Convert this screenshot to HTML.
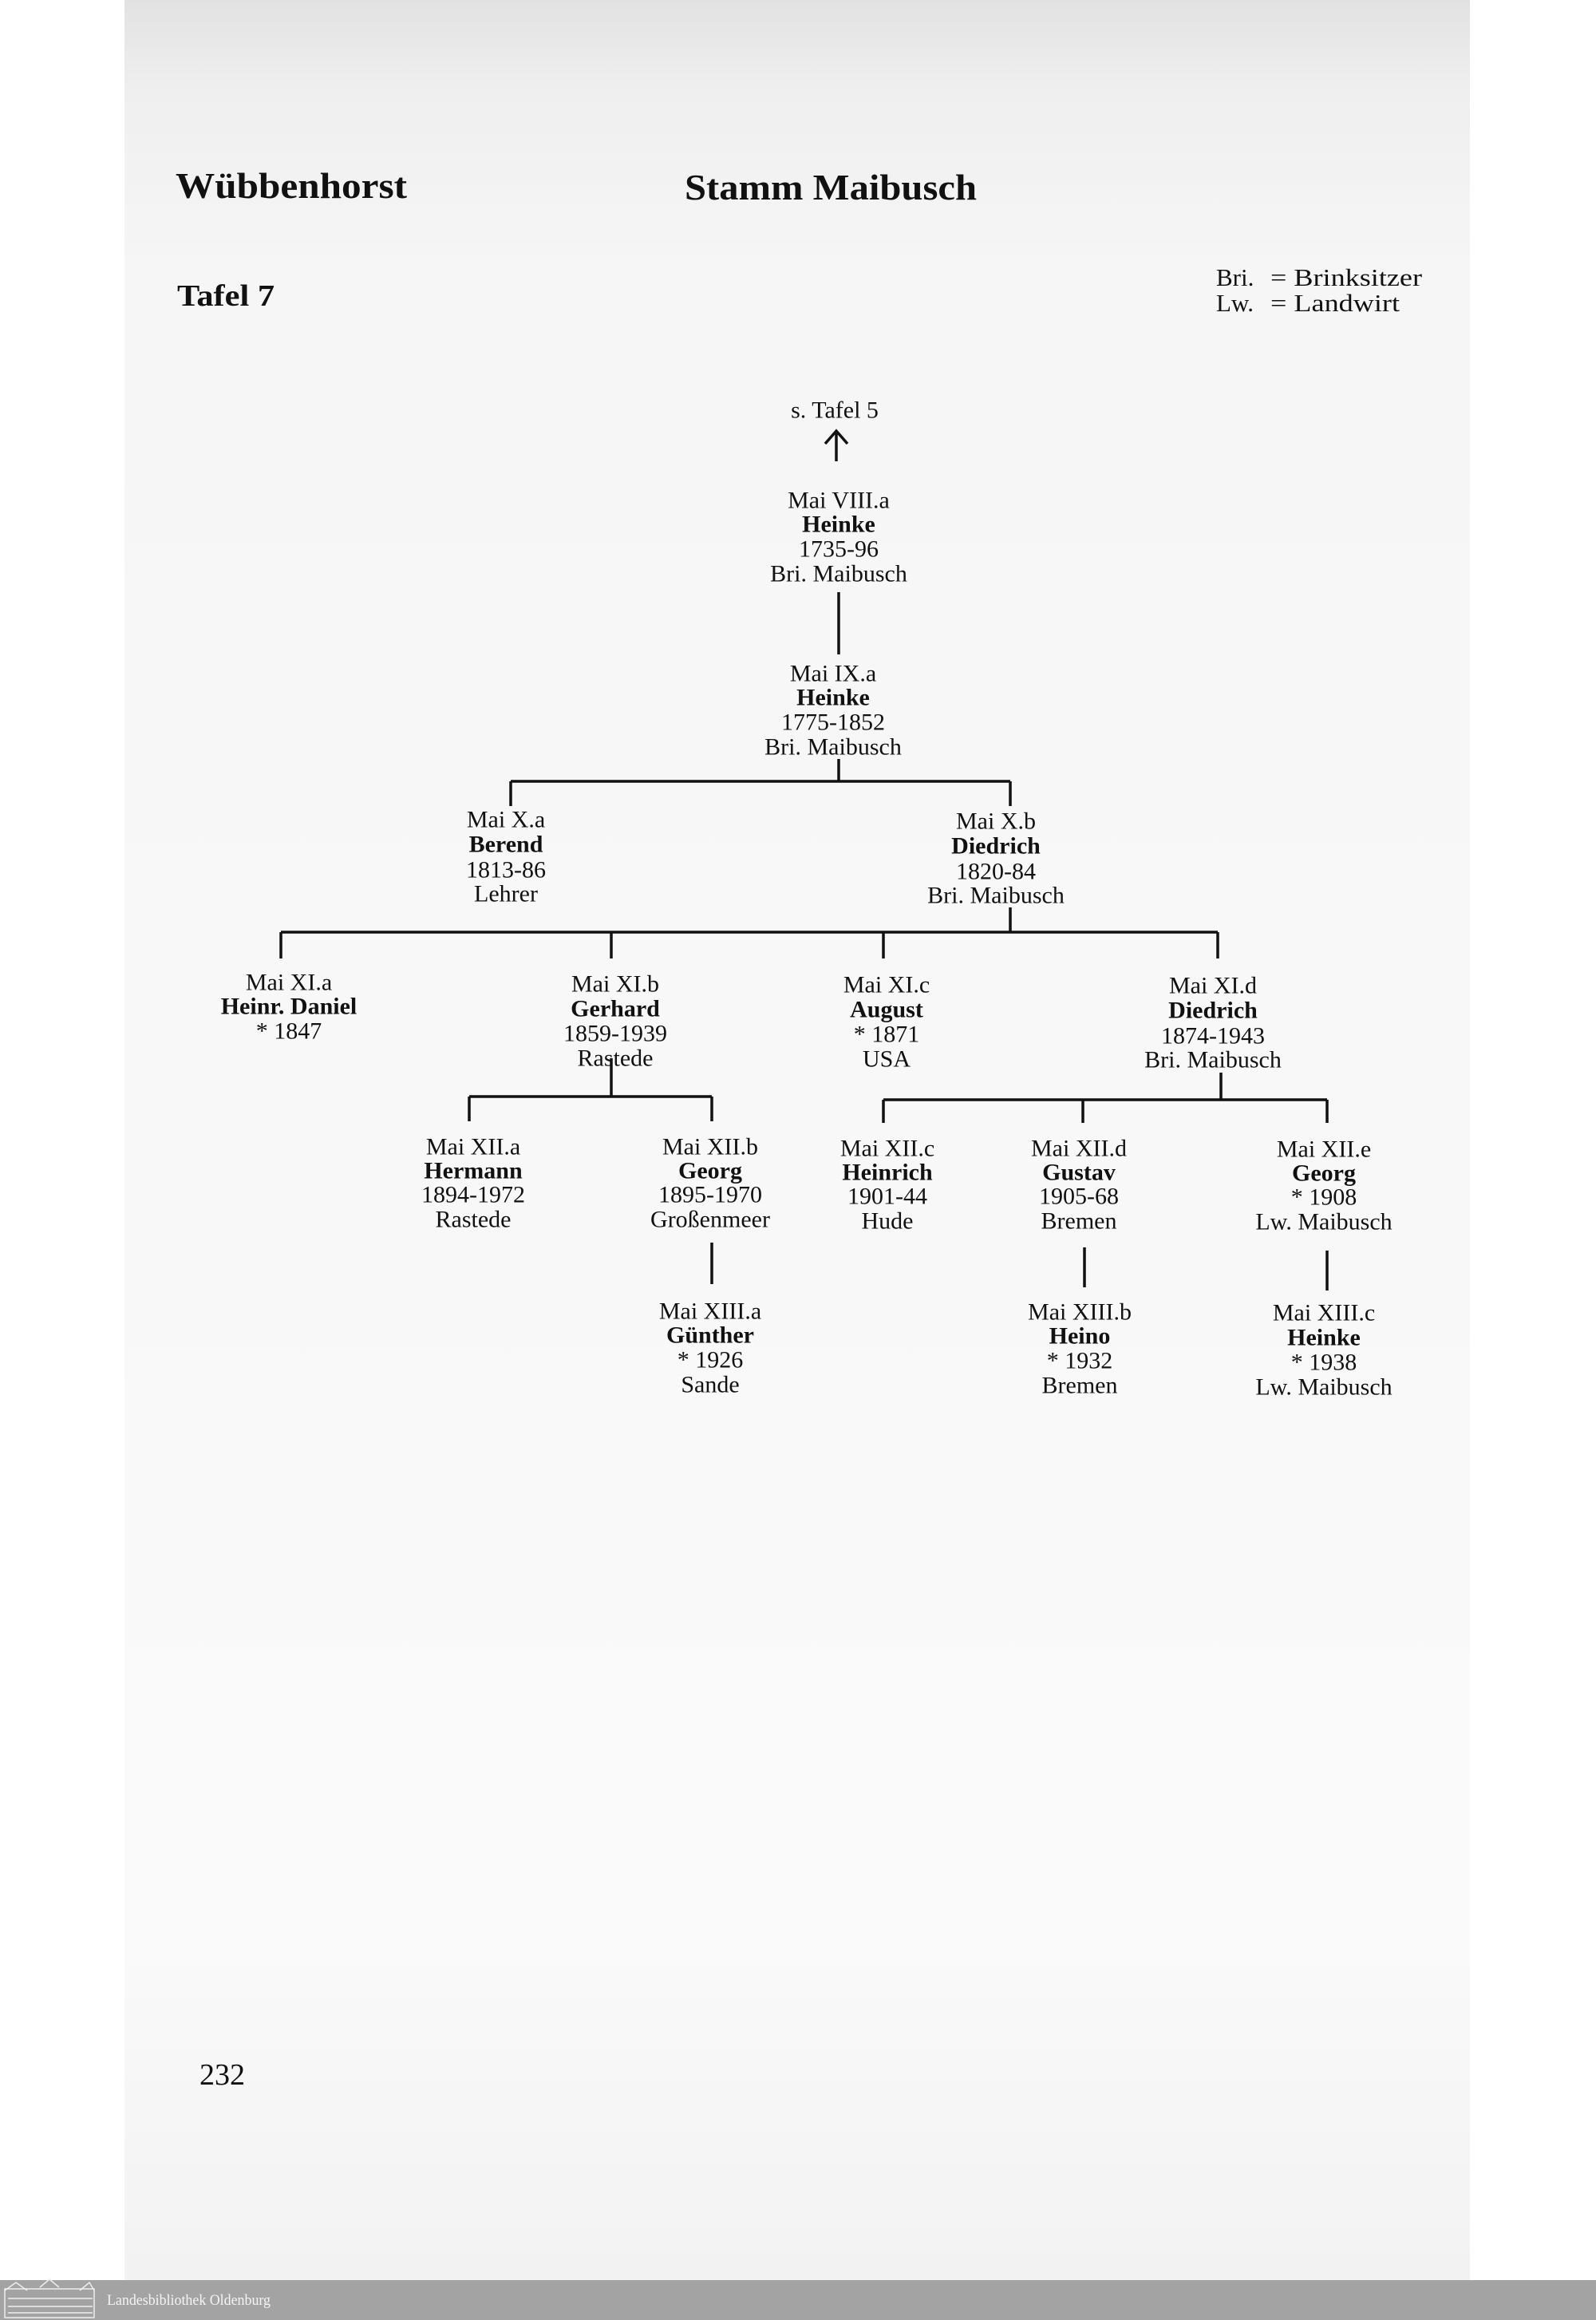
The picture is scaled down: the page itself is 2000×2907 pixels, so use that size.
<!DOCTYPE html>
<html><head><meta charset="utf-8"><style>
html,body{margin:0;padding:0;width:2000px;height:2907px;background:#fff;overflow:hidden}
svg{display:block}
text{font-family:"Liberation Serif",serif;fill:#111}
</style></head><body>
<svg width="2000" height="2907" viewBox="0 0 2000 2907" xmlns="http://www.w3.org/2000/svg">
<defs>
<linearGradient id="pg" x1="0" y1="0" x2="0" y2="1">
<stop offset="0" stop-color="#e2e2e2"/>
<stop offset="0.04" stop-color="#efefef"/>
<stop offset="0.12" stop-color="#f6f6f6"/>
<stop offset="0.85" stop-color="#fafafa"/>
<stop offset="1" stop-color="#f2f2f2"/>
</linearGradient>
</defs>
<rect x="0" y="0" width="2000" height="2907" fill="#fff"/>
<rect x="156" y="0" width="1686" height="2857" fill="url(#pg)"/>
<rect x="0" y="2857" width="2000" height="50" fill="#a3a3a3"/>
<g stroke="#eee" stroke-width="1.5" fill="none">
<rect x="6" y="2868" width="112" height="36"/>
<path d="M6 2870 L20 2860 L34 2870 M50 2866 L62 2856 L74 2866 M100 2870 L112 2860 L118 2870"/>
<path d="M10 2880 H116 M10 2890 H116 M10 2898 H116"/>
</g>
<text x="134" y="2888" font-size="19" style="fill:#f4f4f4" textLength="205" lengthAdjust="spacingAndGlyphs">Landesbibliothek Oldenburg</text>

<text x="220" y="248" font-size="46" font-weight="bold" textLength="290" lengthAdjust="spacingAndGlyphs">Wübbenhorst</text>
<text x="858" y="250" font-size="46" font-weight="bold" textLength="366" lengthAdjust="spacingAndGlyphs">Stamm Maibusch</text>
<text x="222" y="383" font-size="38" font-weight="bold" textLength="122" lengthAdjust="spacingAndGlyphs">Tafel 7</text>
<text x="1524" y="358" font-size="31">Bri.</text>
<text x="1592" y="358" font-size="31" textLength="190" lengthAdjust="spacingAndGlyphs">= Brinksitzer</text>
<text x="1524" y="390" font-size="31">Lw.</text>
<text x="1592" y="390" font-size="31" textLength="162" lengthAdjust="spacingAndGlyphs">= Landwirt</text>
<text x="250" y="2612" font-size="38">232</text>

<g stroke="#111" stroke-width="3.5" fill="none">
<path d="M1048 578 V540 M1034 556 L1048 540 L1062 556"/>
<path d="M1051 742 V820"/>
<path d="M1051 951 V979 M640 979 H1266 M640 979 V1010 M1266 979 V1010"/>
<path d="M1266 1137 V1168 M352 1168 H1526 M352 1168 V1201 M766 1168 V1201 M1107 1168 V1201 M1526 1168 V1201"/>
<path d="M766 1326 V1374 M588 1374 H892 M588 1374 V1405 M892 1374 V1405"/>
<path d="M1530 1344 V1378 M1107 1378 H1663 M1107 1378 V1407 M1357 1378 V1407 M1663 1378 V1407"/>
<path d="M892 1557 V1609 M1359 1563 V1613 M1663 1567 V1617"/>
</g>

<g font-size="30" text-anchor="middle" dominant-baseline="central">
<text x="1046" y="514">s. Tafel 5</text>

<text x="1051" y="627">Mai VIII.a</text>
<text x="1051" y="657" font-weight="bold">Heinke</text>
<text x="1051" y="688">1735-96</text>
<text x="1051" y="719">Bri. Maibusch</text>

<text x="1044" y="844">Mai IX.a</text>
<text x="1044" y="874" font-weight="bold">Heinke</text>
<text x="1044" y="905">1775-1852</text>
<text x="1044" y="936">Bri. Maibusch</text>

<text x="634" y="1027">Mai X.a</text>
<text x="634" y="1058" font-weight="bold">Berend</text>
<text x="634" y="1090">1813-86</text>
<text x="634" y="1120">Lehrer</text>

<text x="1248" y="1029">Mai X.b</text>
<text x="1248" y="1060" font-weight="bold">Diedrich</text>
<text x="1248" y="1092">1820-84</text>
<text x="1248" y="1122">Bri. Maibusch</text>

<text x="362" y="1231">Mai XI.a</text>
<text x="362" y="1261" font-weight="bold">Heinr. Daniel</text>
<text x="362" y="1292">* 1847</text>

<text x="771" y="1233">Mai XI.b</text>
<text x="771" y="1264" font-weight="bold">Gerhard</text>
<text x="771" y="1295">1859-1939</text>
<text x="771" y="1326">Rastede</text>

<text x="1111" y="1234">Mai XI.c</text>
<text x="1111" y="1265" font-weight="bold">August</text>
<text x="1111" y="1296">* 1871</text>
<text x="1111" y="1327">USA</text>

<text x="1520" y="1235">Mai XI.d</text>
<text x="1520" y="1266" font-weight="bold">Diedrich</text>
<text x="1520" y="1298">1874-1943</text>
<text x="1520" y="1328">Bri. Maibusch</text>

<text x="593" y="1437">Mai XII.a</text>
<text x="593" y="1467" font-weight="bold">Hermann</text>
<text x="593" y="1497">1894-1972</text>
<text x="593" y="1528">Rastede</text>

<text x="890" y="1437">Mai XII.b</text>
<text x="890" y="1467" font-weight="bold">Georg</text>
<text x="890" y="1497">1895-1970</text>
<text x="890" y="1528">Großenmeer</text>

<text x="1112" y="1439">Mai XII.c</text>
<text x="1112" y="1469" font-weight="bold">Heinrich</text>
<text x="1112" y="1499">1901-44</text>
<text x="1112" y="1530">Hude</text>

<text x="1352" y="1439">Mai XII.d</text>
<text x="1352" y="1469" font-weight="bold">Gustav</text>
<text x="1352" y="1499">1905-68</text>
<text x="1352" y="1530">Bremen</text>

<text x="1659" y="1440">Mai XII.e</text>
<text x="1659" y="1470" font-weight="bold">Georg</text>
<text x="1659" y="1500">* 1908</text>
<text x="1659" y="1531">Lw. Maibusch</text>

<text x="890" y="1643">Mai XIII.a</text>
<text x="890" y="1673" font-weight="bold">Günther</text>
<text x="890" y="1704">* 1926</text>
<text x="890" y="1735">Sande</text>

<text x="1353" y="1644">Mai XIII.b</text>
<text x="1353" y="1674" font-weight="bold">Heino</text>
<text x="1353" y="1705">* 1932</text>
<text x="1353" y="1736">Bremen</text>

<text x="1659" y="1645">Mai XIII.c</text>
<text x="1659" y="1676" font-weight="bold">Heinke</text>
<text x="1659" y="1707">* 1938</text>
<text x="1659" y="1738">Lw. Maibusch</text>
</g>
</svg>
</body></html>
